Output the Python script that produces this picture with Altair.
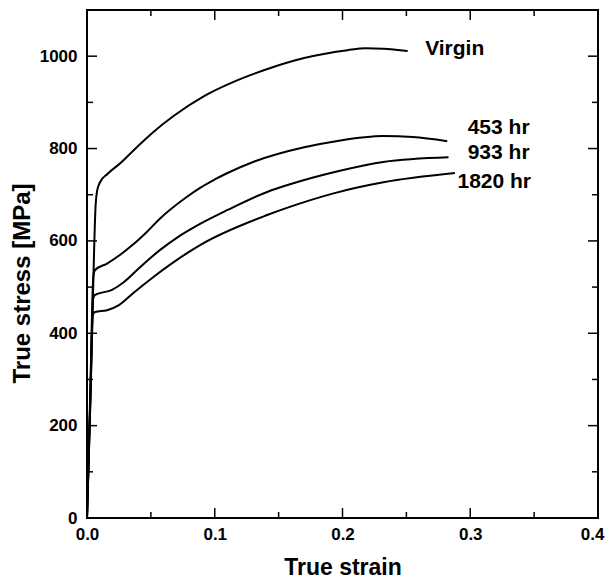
import altair as alt
import pandas as pd

# ---- data ----
series_names = ["Virgin", "453 hr", "933 hr", "1820 hr"]

virgin_strain = [0, 0.0035, 0.0068, 0.0080, 0.0102, 0.016, 0.026, 0.039, 0.052, 0.068, 0.092, 0.117, 0.143, 0.170, 0.204, 0.218, 0.232, 0.251]
virgin_stress = [0, 345, 680, 710, 727, 745, 768, 803, 836, 871, 914, 947, 974, 996, 1013, 1017, 1016, 1011]

h453_strain = [0, 0.0025, 0.0050, 0.0063, 0.0157, 0.026, 0.036, 0.047, 0.057, 0.078, 0.0885, 0.100, 0.110, 0.131, 0.170, 0.195, 0.232, 0.255, 0.282]
h453_stress = [0, 265, 525, 537, 551, 570, 592, 620, 648, 695, 715, 733, 747, 772, 803, 816, 827, 825, 816]

h933_strain = [0, 0.0025, 0.0048, 0.0063, 0.0196, 0.029, 0.0415, 0.057, 0.072, 0.0885, 0.110, 0.141, 0.157, 0.198, 0.232, 0.283]
h933_stress = [0, 250, 475, 483, 494, 511, 543, 580, 610, 637, 667, 706, 721, 752, 771, 781]

h1820_strain = [0, 0.0025, 0.0045, 0.0063, 0.0157, 0.025, 0.037, 0.052, 0.078, 0.0885, 0.141, 0.157, 0.193, 0.232, 0.288]
h1820_stress = [0, 235, 440, 446, 450, 461, 489, 522, 573, 591, 656, 672, 703, 727, 747]

label_x = [0.2647, 0.298, 0.298, 0.290]
label_y = [1015, 844, 790, 728]

x_major = [0.0, 0.1, 0.2, 0.3, 0.4]
x_minor = [0.05, 0.15, 0.25, 0.35]
y_major = [0, 200, 400, 600, 800, 1000]
y_minor = [100, 300, 500, 700, 900]

# ---- tables ----
rows = []
for name, xs, ys in zip(series_names,
                        [virgin_strain, h453_strain, h933_strain, h1820_strain],
                        [virgin_stress, h453_stress, h933_stress, h1820_stress]):
    for i, (sx, sy) in enumerate(zip(xs, ys)):
        rows.append({"series": name, "strain": sx, "stress": sy, "idx": i})
df = pd.DataFrame(rows)
labels_df = pd.DataFrame({"text": series_names, "x": label_x, "y": label_y})

W, H = 511, 508
FONT = "Liberation Sans"
xscale = alt.Scale(domain=[0, 0.4], nice=False, zero=False)
yscale = alt.Scale(domain=[0, 1100], nice=False, zero=False)

x_axis = alt.Axis(values=x_major, format=".1f", title="True strain", ticks=False,
                  domain=False, grid=False, labelFont=FONT, labelFontSize=17,
                  labelFontWeight="bold", labelColor="black", labelPadding=8,
                  labelFlush=False, labelOverlap=False,
                  labelAlign=alt.condition("datum.value >= 0.39", alt.value("right"), alt.value("center")),
                  labelOffset=alt.condition("datum.value >= 0.39", alt.value(6), alt.value(0)),
                  titleFont=FONT, titleFontSize=23, titleFontWeight="bold",
                  titleColor="black", titleX=W / 2, titleY=56,
                  titleBaseline="alphabetic", titleAlign="center")
y_axis = alt.Axis(values=y_major, format="d", title="True stress [MPa]", ticks=False,
                  domain=False, grid=False, labelFont=FONT, labelFontSize=17,
                  labelFontWeight="bold", labelColor="black", labelPadding=10,
                  labelFlush=False, labelOverlap=False,
                  titleFont=FONT, titleFontSize=24, titleFontWeight="bold",
                  titleColor="black", titleX=-65, titleY=273,
                  titleBaseline="middle", titleAlign="center", titleAngle=270)

lines = alt.Chart(df).mark_line(color="black", strokeWidth=2, interpolate="monotone").encode(
    x=alt.X("strain:Q", scale=xscale, axis=x_axis),
    y=alt.Y("stress:Q", scale=yscale, axis=y_axis),
    detail="series:N",
    order="idx:Q",
)

texts = alt.Chart(labels_df).mark_text(align="left", baseline="middle", font=FONT,
                                        fontSize=21, fontWeight="bold", color="black").encode(
    x=alt.X("x:Q", scale=xscale, axis=x_axis),
    y=alt.Y("y:Q", scale=yscale, axis=y_axis),
    text="text:N",
)


def xticks(vals, length):
    d = pd.DataFrame({"v": vals})
    bottom = alt.Chart(d).mark_rule(color="black", strokeWidth=1.5).encode(
        x=alt.X("v:Q", scale=xscale, axis=x_axis), y=alt.value(H), y2=alt.value(H - length))
    top = alt.Chart(d).mark_rule(color="black", strokeWidth=1.5).encode(
        x=alt.X("v:Q", scale=xscale, axis=x_axis), y=alt.value(0), y2=alt.value(length))
    return [bottom, top]


def yticks(vals, length):
    d = pd.DataFrame({"v": vals})
    left = alt.Chart(d).mark_rule(color="black", strokeWidth=1.5).encode(
        y=alt.Y("v:Q", scale=yscale, axis=y_axis), x=alt.value(0), x2=alt.value(length))
    right = alt.Chart(d).mark_rule(color="black", strokeWidth=1.5).encode(
        y=alt.Y("v:Q", scale=yscale, axis=y_axis), x=alt.value(W), x2=alt.value(W - length))
    return [left, right]


layers = [lines, texts] + xticks(x_major, 10) + xticks(x_minor, 6) + yticks(y_major, 10) + yticks(y_minor, 6)

chart = alt.layer(*layers).properties(
    width=W, height=H,
    autosize=alt.AutoSizeParams(type="none"),
    padding={"left": 79, "top": 2, "right": 7, "bottom": 61},
    background="white",
).configure_view(stroke="black", strokeWidth=2)

chart.save("out.html", embed_options={"renderer": "svg", "actions": False})
